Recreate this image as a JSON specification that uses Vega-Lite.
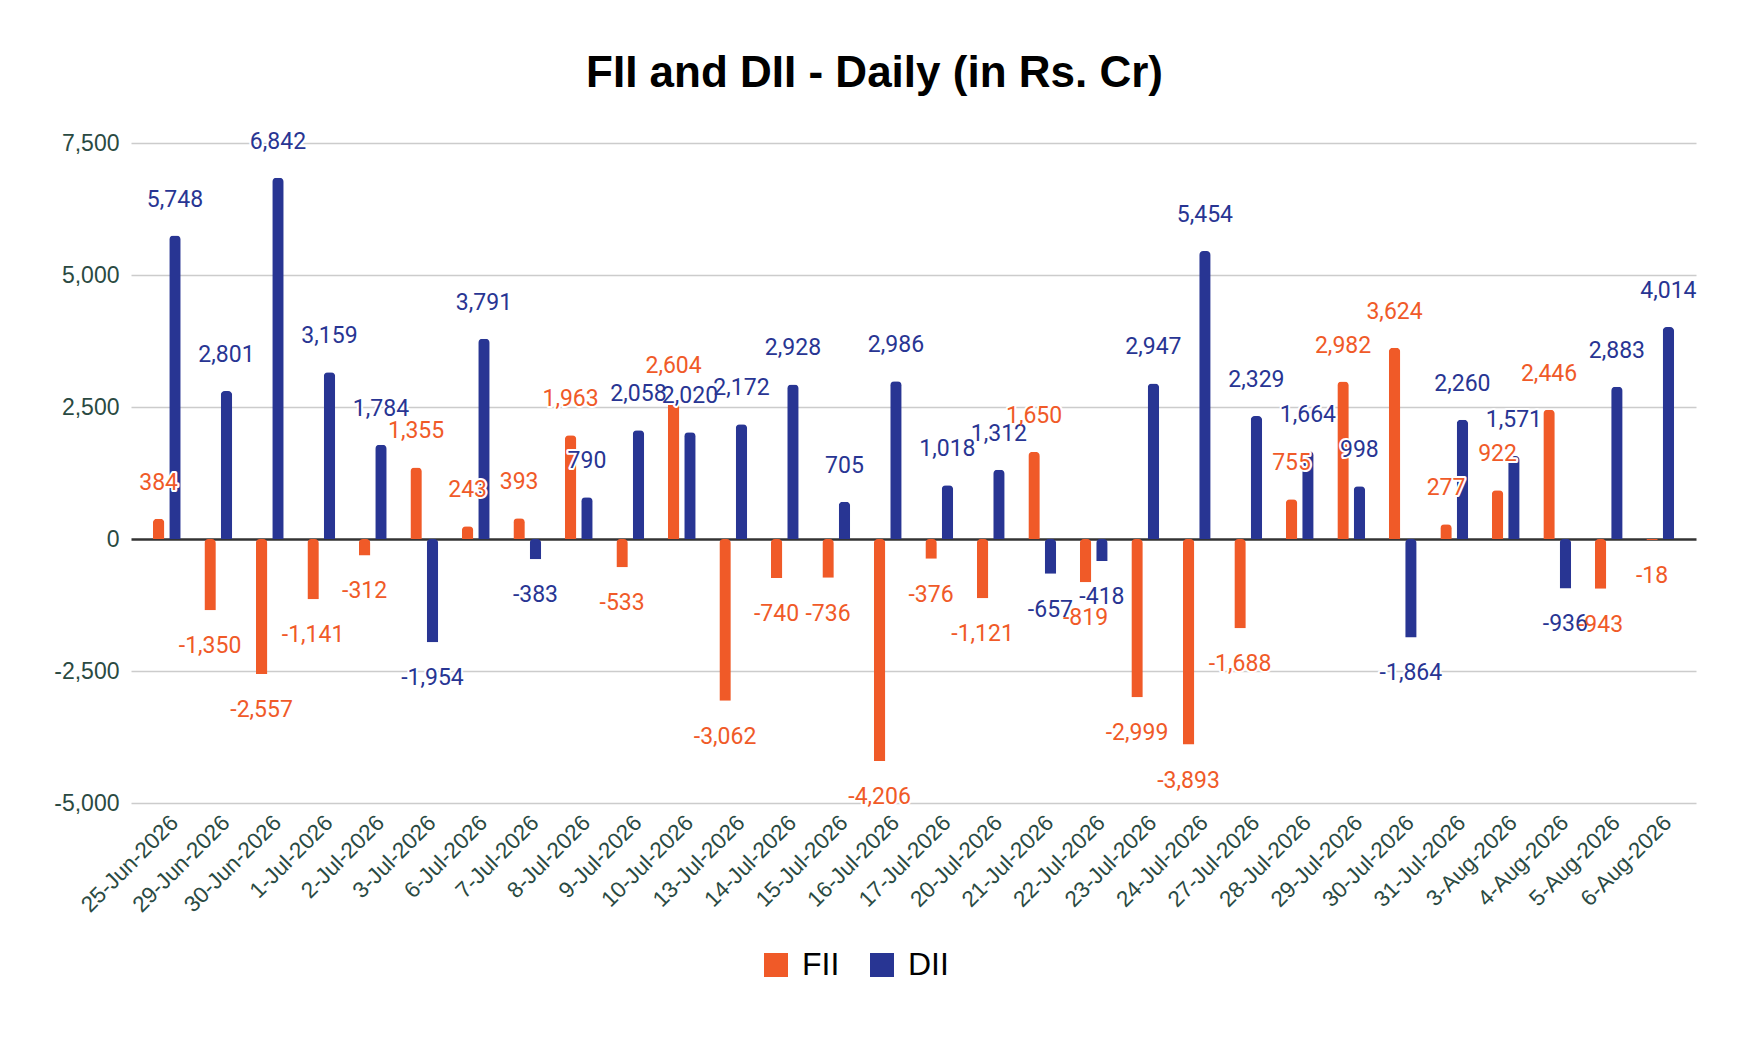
{
  "$schema": "https://vega.github.io/schema/vega-lite/v6.json",
  "description": "FII and DII daily net flows",
  "autosize": {"type": "none"},
  "padding": {"left": 131, "top": 143, "right": 42, "bottom": 235},
  "width": 1565,
  "height": 660,
  "background": "white",
  "title": {
    "text": "FII and DII - Daily (in Rs. Cr)",
    "font": "Liberation Sans",
    "fontSize": 44,
    "fontWeight": "bold",
    "color": "#000000",
    "anchor": "middle",
    "frame": "group",
    "dx": -39,
    "offset": 35
  },
  "data": {
    "values": [
      {"date": "25-Jun-2026", "series": "FII", "value": 384},
      {"date": "25-Jun-2026", "series": "DII", "value": 5748},
      {"date": "29-Jun-2026", "series": "FII", "value": -1350},
      {"date": "29-Jun-2026", "series": "DII", "value": 2801},
      {"date": "30-Jun-2026", "series": "FII", "value": -2557},
      {"date": "30-Jun-2026", "series": "DII", "value": 6842},
      {"date": "1-Jul-2026", "series": "FII", "value": -1141},
      {"date": "1-Jul-2026", "series": "DII", "value": 3159},
      {"date": "2-Jul-2026", "series": "FII", "value": -312},
      {"date": "2-Jul-2026", "series": "DII", "value": 1784},
      {"date": "3-Jul-2026", "series": "FII", "value": 1355},
      {"date": "3-Jul-2026", "series": "DII", "value": -1954},
      {"date": "6-Jul-2026", "series": "FII", "value": 243},
      {"date": "6-Jul-2026", "series": "DII", "value": 3791},
      {"date": "7-Jul-2026", "series": "FII", "value": 393},
      {"date": "7-Jul-2026", "series": "DII", "value": -383},
      {"date": "8-Jul-2026", "series": "FII", "value": 1963},
      {"date": "8-Jul-2026", "series": "DII", "value": 790},
      {"date": "9-Jul-2026", "series": "FII", "value": -533},
      {"date": "9-Jul-2026", "series": "DII", "value": 2058},
      {"date": "10-Jul-2026", "series": "FII", "value": 2604},
      {"date": "10-Jul-2026", "series": "DII", "value": 2020},
      {"date": "13-Jul-2026", "series": "FII", "value": -3062},
      {"date": "13-Jul-2026", "series": "DII", "value": 2172},
      {"date": "14-Jul-2026", "series": "FII", "value": -740},
      {"date": "14-Jul-2026", "series": "DII", "value": 2928},
      {"date": "15-Jul-2026", "series": "FII", "value": -736},
      {"date": "15-Jul-2026", "series": "DII", "value": 705},
      {"date": "16-Jul-2026", "series": "FII", "value": -4206},
      {"date": "16-Jul-2026", "series": "DII", "value": 2986},
      {"date": "17-Jul-2026", "series": "FII", "value": -376},
      {"date": "17-Jul-2026", "series": "DII", "value": 1018},
      {"date": "20-Jul-2026", "series": "FII", "value": -1121},
      {"date": "20-Jul-2026", "series": "DII", "value": 1312},
      {"date": "21-Jul-2026", "series": "FII", "value": 1650},
      {"date": "21-Jul-2026", "series": "DII", "value": -657},
      {"date": "22-Jul-2026", "series": "FII", "value": -819},
      {"date": "22-Jul-2026", "series": "DII", "value": -418},
      {"date": "23-Jul-2026", "series": "FII", "value": -2999},
      {"date": "23-Jul-2026", "series": "DII", "value": 2947},
      {"date": "24-Jul-2026", "series": "FII", "value": -3893},
      {"date": "24-Jul-2026", "series": "DII", "value": 5454},
      {"date": "27-Jul-2026", "series": "FII", "value": -1688},
      {"date": "27-Jul-2026", "series": "DII", "value": 2329},
      {"date": "28-Jul-2026", "series": "FII", "value": 755},
      {"date": "28-Jul-2026", "series": "DII", "value": 1664},
      {"date": "29-Jul-2026", "series": "FII", "value": 2982},
      {"date": "29-Jul-2026", "series": "DII", "value": 998},
      {"date": "30-Jul-2026", "series": "FII", "value": 3624},
      {"date": "30-Jul-2026", "series": "DII", "value": -1864},
      {"date": "31-Jul-2026", "series": "FII", "value": 277},
      {"date": "31-Jul-2026", "series": "DII", "value": 2260},
      {"date": "3-Aug-2026", "series": "FII", "value": 922},
      {"date": "3-Aug-2026", "series": "DII", "value": 1571},
      {"date": "4-Aug-2026", "series": "FII", "value": 2446},
      {"date": "4-Aug-2026", "series": "DII", "value": -936},
      {"date": "5-Aug-2026", "series": "FII", "value": -943},
      {"date": "5-Aug-2026", "series": "DII", "value": 2883},
      {"date": "6-Aug-2026", "series": "FII", "value": -18},
      {"date": "6-Aug-2026", "series": "DII", "value": 4014}
    ]
  },
  "encoding": {
    "x": {
      "field": "date",
      "type": "nominal",
      "sort": null,
      "scale": {"paddingInner": 0.46, "paddingOuter": 0.425},
      "axis": {
        "title": null,
        "labelAngle": -45,
        "labelFont": "Liberation Sans",
        "labelFontSize": 22.5,
        "labelColor": "#2a4a42",
        "ticks": false,
        "domain": false,
        "labelPadding": 8
      }
    },
    "xOffset": {
      "field": "series",
      "type": "nominal",
      "sort": ["FII", "DII"],
      "scale": {"paddingInner": 0.3, "paddingOuter": 0}
    },
    "y": {
      "field": "value",
      "type": "quantitative",
      "scale": {"domain": [-5000, 7500], "nice": false},
      "axis": {
        "title": null,
        "values": [-5000, -2500, 0, 2500, 5000, 7500],
        "format": ",.0f",
        "labelFont": "Liberation Sans",
        "labelFontSize": 23,
        "labelColor": "#2a4a42",
        "ticks": false,
        "domain": false,
        "labelPadding": 12,
        "gridColor": {"condition": {"test": "datum.value === 0", "value": "#333333"}, "value": "#cccccc"},
        "gridWidth": {"condition": {"test": "datum.value === 0", "value": 2.5}, "value": 1.5}
      }
    }
  },
  "layer": [
    {
      "mark": {"type": "bar", "cornerRadiusEnd": 4},
      "encoding": {
        "color": {
          "field": "series",
          "type": "nominal",
          "sort": ["FII", "DII"],
          "scale": {"domain": ["FII", "DII"], "range": ["#f05a28", "#283593"]},
          "legend": {
            "title": null,
            "orient": "none",
            "direction": "horizontal",
            "legendX": 629,
            "legendY": 806,
            "symbolType": "square",
            "symbolSize": 576,
            "symbolStrokeWidth": 0,
            "labelFont": "Liberation Sans",
            "labelFontSize": 32,
            "labelColor": "#000000",
            "columnPadding": 26,
            "labelOffset": 10
          }
        }
      }
    },
    {
      "transform": [{"filter": "datum.value >= 0"}],
      "mark": {"type": "text", "font": "Roboto", "fontSize": 23, "baseline": "middle", "dy": -36, "fill": "white", "stroke": "white", "strokeWidth": 4, "strokeJoin": "round"},
      "encoding": {"text": {"field": "value", "type": "quantitative", "format": ","}}
    },
    {
      "transform": [{"filter": "datum.value >= 0"}],
      "mark": {"type": "text", "font": "Roboto", "fontSize": 23, "baseline": "middle", "dy": -36},
      "encoding": {
        "text": {"field": "value", "type": "quantitative", "format": ","},
        "color": {"field": "series", "type": "nominal", "legend": null}
      }
    },
    {
      "transform": [{"filter": "datum.value < 0"}],
      "mark": {"type": "text", "font": "Roboto", "fontSize": 23, "baseline": "middle", "dy": 36, "fill": "white", "stroke": "white", "strokeWidth": 4, "strokeJoin": "round"},
      "encoding": {"text": {"field": "value", "type": "quantitative", "format": ","}}
    },
    {
      "transform": [{"filter": "datum.value < 0"}],
      "mark": {"type": "text", "font": "Roboto", "fontSize": 23, "baseline": "middle", "dy": 36},
      "encoding": {
        "text": {"field": "value", "type": "quantitative", "format": ","},
        "color": {"field": "series", "type": "nominal", "legend": null}
      }
    }
  ],
  "config": {
    "view": {"stroke": null},
    "locale": {
      "number": {"decimal": ".", "thousands": ",", "grouping": [3], "currency": ["$", ""], "minus": "-"}
    }
  }
}
